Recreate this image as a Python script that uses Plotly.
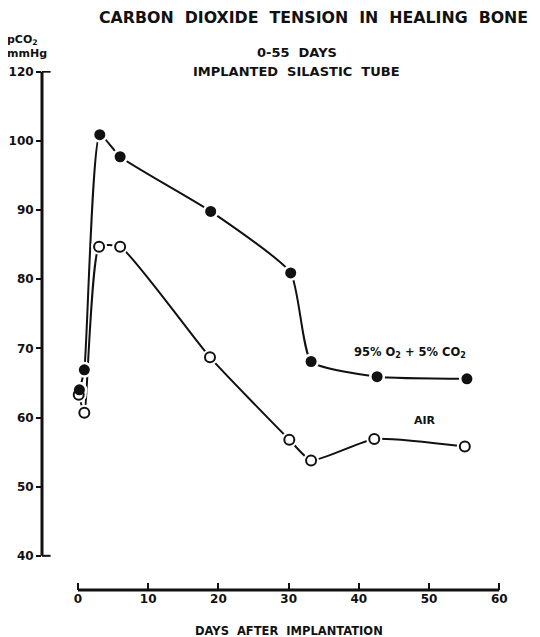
import plotly.graph_objects as go

# ---- data ----
days_o2 = [0.2, 0.9, 3.1, 6.0, 18.9, 30.3, 33.2, 42.6, 55.4]
pco2_o2 = [64.0, 66.9, 100.9, 97.7, 89.8, 80.9, 68.1, 65.9, 65.6]
days_air = [0.1, 0.9, 3.0, 6.0, 18.8, 30.1, 33.2, 42.2, 55.1]
pco2_air = [63.3, 60.7, 84.7, 84.7, 68.7, 56.8, 53.8, 56.9, 55.8]
x_ticks = [0, 10, 20, 30, 40, 50, 60]
y_tickvals = [40, 50, 60, 70, 80, 90, 100, 110]
y_ticktext = ["40", "50", "60", "70", "80", "90", "100", "120"]

FONT = "DejaVu Sans"
BLACK = "#111111"

fig = go.Figure()

# curves
fig.add_trace(go.Scatter(x=days_o2, y=pco2_o2, mode="lines",
                         line=dict(color=BLACK, width=2, shape="spline", smoothing=0.5),
                         hoverinfo="skip", showlegend=False))
fig.add_trace(go.Scatter(x=days_air, y=pco2_air, mode="lines",
                         line=dict(color=BLACK, width=2, shape="spline", smoothing=0.5),
                         hoverinfo="skip", showlegend=False))
# white halos to create gaps near markers
fig.add_trace(go.Scatter(x=days_o2 + days_air, y=pco2_o2 + pco2_air, mode="markers",
                         marker=dict(color="white", size=16, line=dict(width=0)),
                         hoverinfo="skip", showlegend=False))
# markers
fig.add_trace(go.Scatter(x=days_air, y=pco2_air, mode="markers", name="AIR",
                         marker=dict(color="white", size=10, line=dict(color=BLACK, width=2)),
                         showlegend=False))
fig.add_trace(go.Scatter(x=days_o2, y=pco2_o2, mode="markers", name="95% O2 + 5% CO2",
                         marker=dict(color=BLACK, size=11, line=dict(width=0)),
                         showlegend=False))

# axis lines drawn as shapes (limited extents)
fig.add_shape(type="line", xref="paper", yref="y", x0=0, x1=0, y0=40, y1=110,
              line=dict(color=BLACK, width=3))
fig.add_shape(type="line", xref="paper", yref="y", x0=0, x1=0.018, y0=40, y1=40,
              line=dict(color=BLACK, width=2))
fig.add_shape(type="line", xref="paper", yref="y", x0=0, x1=0.018, y0=110, y1=110,
              line=dict(color=BLACK, width=2))
fig.add_shape(type="line", xref="x", yref="paper", x0=0, x1=60, y0=0, y1=0,
              line=dict(color=BLACK, width=3))

tf = dict(family=FONT, size=12, color=BLACK, weight="bold")

fig.update_layout(
    width=532, height=629,
    margin=dict(l=34, r=20, t=63, b=47),
    plot_bgcolor="white", paper_bgcolor="white",
    xaxis=dict(range=[-5.13, 62.96], showgrid=False, zeroline=False, showline=False,
               tickvals=x_ticks, ticks="inside", ticklen=7, tickwidth=2, tickcolor=BLACK,
               tickfont=tf, automargin=False),
    yaxis=dict(range=[35.06, 110.1], showgrid=False, zeroline=False, showline=False,
               tickvals=y_tickvals, ticktext=y_ticktext, ticks="outside", ticklen=5,
               tickwidth=2, tickcolor=BLACK, tickfont=tf, automargin=False),
    annotations=[
        dict(text="CARBON  DIOXIDE  TENSION  IN  HEALING  BONE", xref="paper", yref="paper",
             x=(313 - 42) / 478, y=1.103, xanchor="center", yanchor="middle", showarrow=False,
             font=dict(family=FONT, size=15.8, color=BLACK, weight="bold")),
        dict(text="0-55  DAYS", xref="paper", yref="paper",
             x=(297 - 42) / 478, y=(590 - 52) / 519, xanchor="center", yanchor="middle",
             showarrow=False, font=dict(family=FONT, size=13, color=BLACK, weight="bold")),
        dict(text="IMPLANTED  SILASTIC  TUBE", xref="paper", yref="paper",
             x=(296 - 42) / 478, y=(590 - 71) / 519, xanchor="center", yanchor="middle",
             showarrow=False, font=dict(family=FONT, size=13, color=BLACK, weight="bold")),
        dict(text="pCO<sub>2</sub><br>mmHg", xref="paper", yref="paper",
             x=(5 - 42) / 478, y=(590 - 46) / 519, xanchor="left", yanchor="middle",
             align="left", showarrow=False,
             font=dict(family=FONT, size=11, color=BLACK, weight="bold")),
        dict(text="95% O<sub>2</sub> + 5% CO<sub>2</sub>", xref="paper", yref="paper",
             x=(410 - 42) / 478, y=(590 - 352) / 519, xanchor="center", yanchor="middle",
             showarrow=False, font=dict(family=FONT, size=11.5, color=BLACK, weight="bold")),
        dict(text="AIR", xref="paper", yref="paper",
             x=(425 - 42) / 478, y=(590 - 421) / 519, xanchor="center", yanchor="middle",
             showarrow=False, font=dict(family=FONT, size=11, color=BLACK, weight="bold")),
        dict(text="DAYS  AFTER  IMPLANTATION", xref="x", yref="paper",
             x=30, y=(590 - 631) / 519, xanchor="center", yanchor="middle",
             showarrow=False, font=dict(family=FONT, size=11.5, color=BLACK, weight="bold")),
    ],
)

fig.write_html("out.html")
